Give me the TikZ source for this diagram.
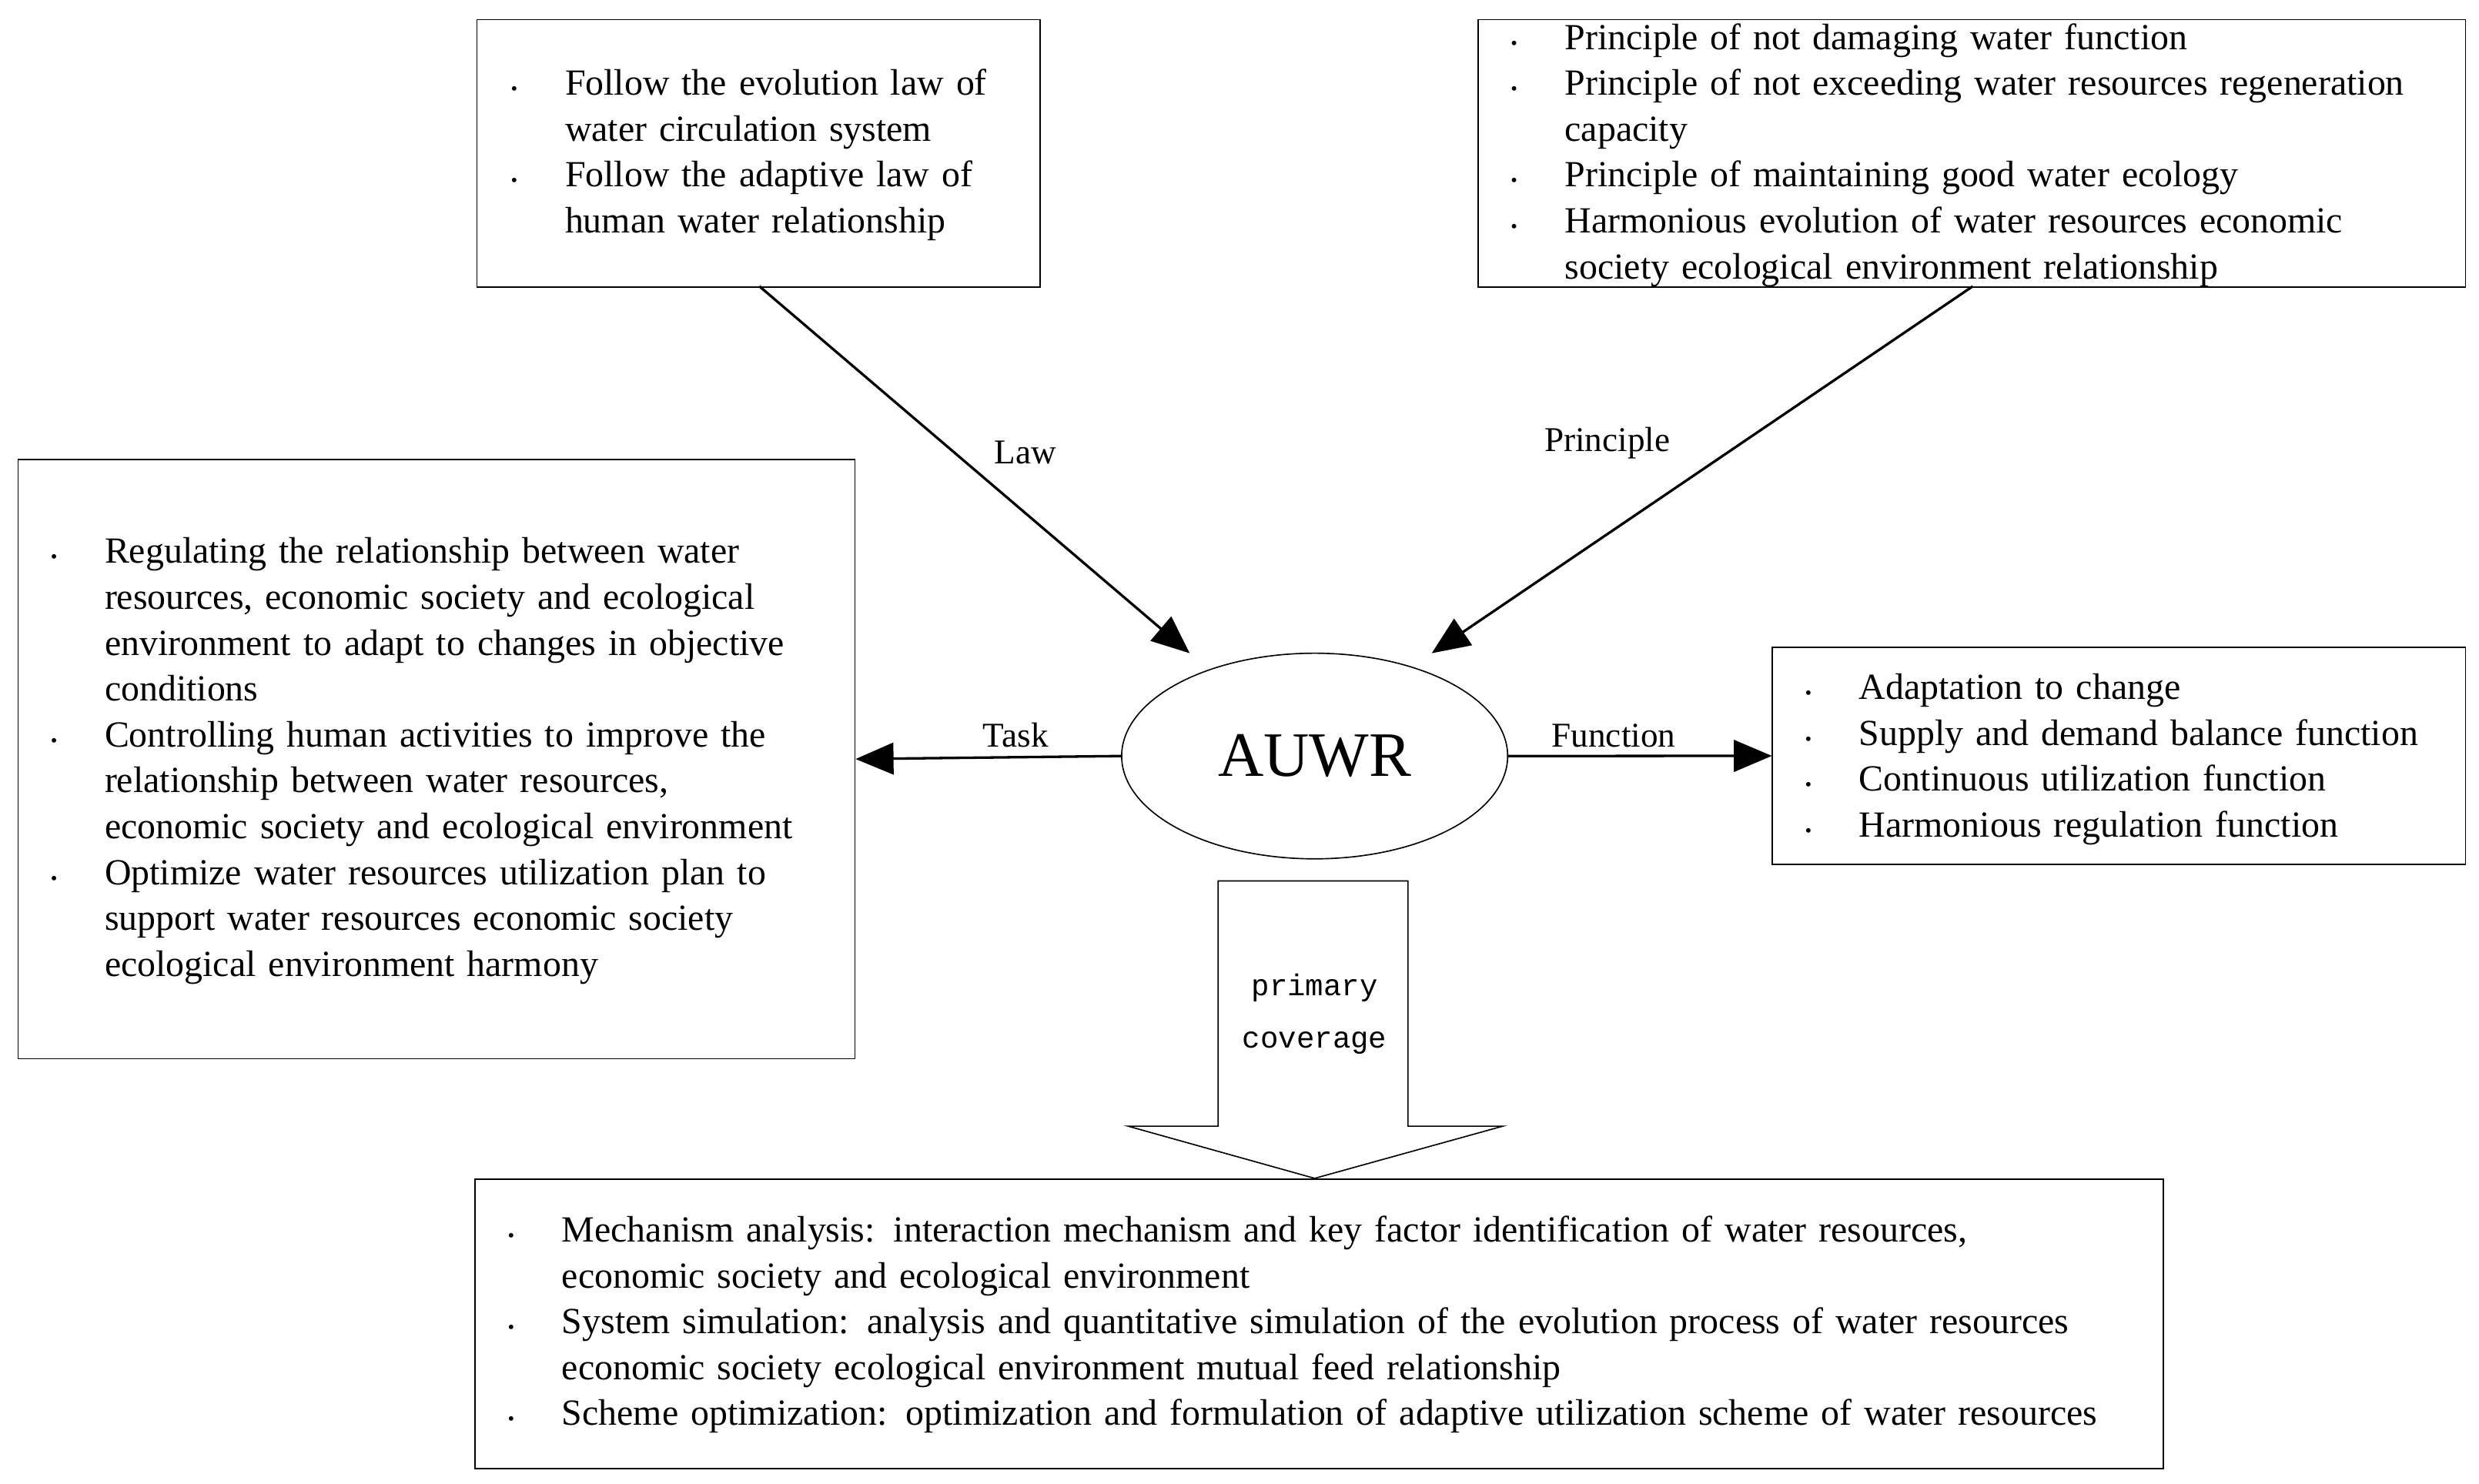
\documentclass[tikz,border=0pt]{standalone}
\usepackage{fontspec}
\setmainfont{Liberation Serif}
\newfontfamily\monof{Liberation Mono}
\usepackage{enumitem}
\usetikzlibrary{arrows.meta,shapes.geometric}
\setlist[itemize]{label={\large\textbullet},leftmargin=0pt,labelsep=30pt,itemsep=0pt,parsep=0pt,topsep=0pt,partopsep=0pt}
\begin{document}
\begin{tikzpicture}[x=1pt,y=1pt,
  box/.style={draw,line width=0.8pt},
  lst/.style={anchor=north west,inner sep=0pt,text width=#1,font=\fontsize{23.3}{29}\selectfont,align=left},
  arr/.style={line width=1.6pt,-{Triangle[length=24pt,width=20pt]}},
  lab/.style={font=\fontsize{22}{26}\selectfont}]
\useasboundingbox (0,0) rectangle (1567,938);
\fill[white] (0,0) rectangle (1567,938);
% boxes
\node[box,minimum width=356,minimum height=169,anchor=north west] (tl) at (301,926) {};
\node[box,minimum width=624,minimum height=169,anchor=north west] (tr) at (934,926) {};
\node[box,minimum width=529,minimum height=379,anchor=north west] (lb) at (11,648) {};
\node[box,minimum width=438,minimum height=137,anchor=north west] (rb) at (1120,529) {};
\node[box,minimum width=1067,minimum height=183,anchor=north west] (bb) at (300,193) {};
\node[box,ellipse,minimum width=244,minimum height=130,font=\fontsize{40}{44}\selectfont] (au) at (831,460) {AUWR};
% lists
\node[lst=300] (tlt) at (357,907) {\begin{itemize}
\item Follow the evolution law of\\ water circulation system
\item Follow the adaptive law of\\ human water relationship
\end{itemize}};
\node[lst=565] (trt) at (989,936) {\begin{itemize}
\item Principle of not damaging water function
\item Principle of not exceeding water resources regeneration\\ capacity
\item Principle of maintaining good water ecology
\item Harmonious evolution of water resources economic\\ society ecological environment relationship
\end{itemize}};
\node[lst=470] (lbt) at (66,611) {\begin{itemize}
\item Regulating the relationship between water\\ resources, economic society and ecological\\ environment to adapt to changes in objective\\ conditions
\item Controlling human activities to improve the\\ relationship between water resources,\\ economic society and ecological environment
\item Optimize water resources utilization plan to\\ support water resources economic society\\ ecological environment harmony
\end{itemize}};
\node[lst=380] (rbt) at (1175,525) {\begin{itemize}
\item Adaptation to change
\item Supply and demand balance function
\item Continuous utilization function
\item Harmonious regulation function
\end{itemize}};
\node[lst=1010] (bbt) at (355,182) {\begin{itemize}
\item Mechanism analysis: interaction mechanism and key factor identification of water resources,\\ economic society and ecological environment
\item System simulation: analysis and quantitative simulation of the evolution process of water resources\\ economic society ecological environment mutual feed relationship
\item Scheme optimization: optimization and formulation of adaptive utilization scheme of water resources
\end{itemize}};
% connectors
\coordinate (a1) at (480,757);
\coordinate (a2) at (1247,757);
\draw[arr] (a1) -- (752,525);
\draw[arr] (a2) -- (905,525);
\draw[arr] (au.west) -- (lb.east);
\draw[arr] (au.east) -- (rb.west);
\node[lab] (l1) at (648,652) {Law};
\node[lab] (l2) at (1016,658) {Principle};
\node[lab] (l3) at (642,473) {Task};
\node[lab] (l4) at (1020,473) {Function};
% block arrow
\draw[line width=0.8pt,fill=white] (770,381) -- (890,381) -- (890,226) -- (950,226) -- (831,193) -- (713,226) -- (770,226) -- cycle;
\node[font=\monof\fontsize{19}{33}\selectfont,align=center] (pc) at (831,297) {primary\\coverage};
\end{tikzpicture}
\end{document}
